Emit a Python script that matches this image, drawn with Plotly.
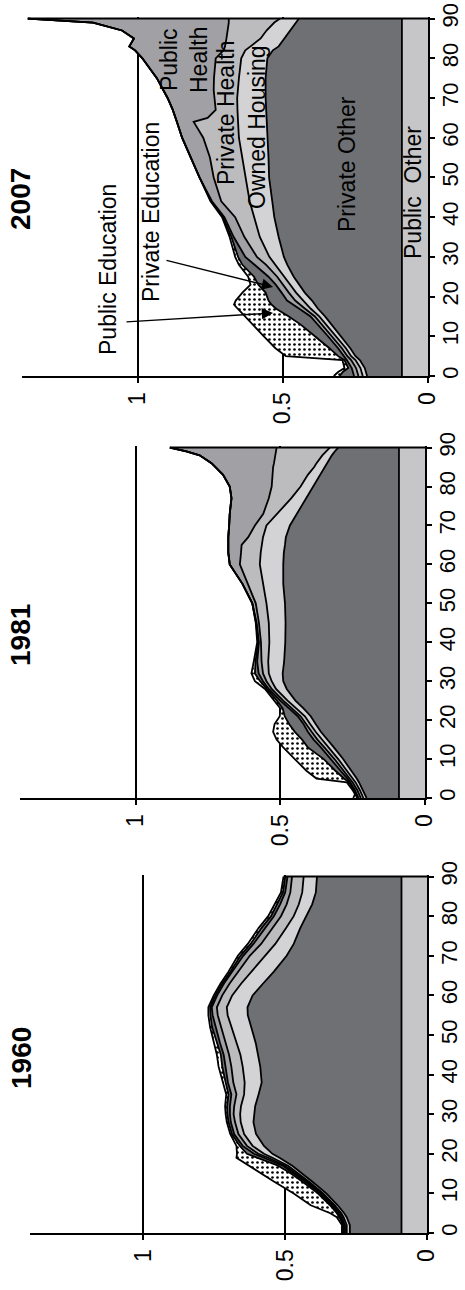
import plotly.graph_objects as go

W, H = 465, 1290
FONT = "Liberation Sans, Arial, Helvetica, sans-serif"

# ---------------- 2007 ----------------
ages_2007 = [0, 1, 2, 4, 5, 7, 10, 13, 15, 17, 18, 19, 21, 23, 25, 28, 30, 35, 40, 44,
             50, 55, 60, 64, 65, 67, 70, 72, 75, 80, 82, 83, 85, 87, 89, 90]
public_other_2007 = [0.09, 0.09, 0.09, 0.09, 0.09, 0.09, 0.09, 0.09, 0.09, 0.09, 0.09, 0.09,
                     0.09, 0.09, 0.09, 0.09, 0.09, 0.09, 0.09, 0.09, 0.09, 0.09, 0.09, 0.09,
                     0.09, 0.09, 0.09, 0.09, 0.09, 0.09, 0.09, 0.09, 0.09, 0.09, 0.09, 0.09]
private_other_2007 = [0.120, 0.124, 0.128, 0.145, 0.160, 0.178, 0.210, 0.245, 0.265, 0.290, 0.300, 0.310,
                      0.335, 0.355, 0.373, 0.395, 0.407, 0.425, 0.440, 0.447, 0.458, 0.460, 0.464, 0.466,
                      0.467, 0.468, 0.470, 0.470, 0.470, 0.464, 0.445, 0.425, 0.405, 0.387, 0.365, 0.355]
owned_housing_2007 = [0.015, 0.015, 0.015, 0.015, 0.015, 0.015, 0.017, 0.017, 0.020, 0.025, 0.028, 0.030,
                      0.030, 0.030, 0.032, 0.040, 0.050, 0.065, 0.070, 0.078, 0.081, 0.090, 0.098, 0.099,
                      0.099, 0.099, 0.098, 0.096, 0.092, 0.090, 0.095, 0.097, 0.082, 0.080, 0.075, 0.065]
private_health_2007 = [0.015, 0.015, 0.015, 0.015, 0.013, 0.014, 0.014, 0.014, 0.015, 0.020, 0.024, 0.028,
                       0.025, 0.025, 0.025, 0.033, 0.043, 0.053, 0.065, 0.098, 0.110, 0.112, 0.123, 0.153,
                       0.104, 0.075, 0.079, 0.083, 0.086, 0.088, 0.075, 0.088, 0.118, 0.133, 0.157, 0.177]
public_health_2007 = [0.015, 0.015, 0.015, 0.015, 0.012, 0.013, 0.014, 0.014, 0.015, 0.020, 0.024, 0.028,
                      0.025, 0.025, 0.030, 0.042, 0.040, 0.037, 0.037, 0.032, 0.049, 0.066, 0.073, 0.058,
                      0.110, 0.148, 0.161, 0.173, 0.197, 0.253, 0.305, 0.330, 0.319, 0.365, 0.468, 0.693]
private_education_2007 = [0.050, 0.035, 0.012, 0.008, 0.020, 0.030, 0.045, 0.060, 0.075, 0.080, 0.074, 0.064,
                          0.055, 0.060, 0.050, 0.040, 0.025, 0.008, 0.005, 0.003, 0.0, 0.0, 0.0, 0.0,
                          0.0, 0.0, 0.0, 0.0, 0.0, 0.0, 0.0, 0.0, 0.0, 0.0, 0.0, 0.0]
public_education_2007 = [0.020, 0.016, 0.013, 0.007, 0.180, 0.186, 0.176, 0.166, 0.150, 0.132, 0.129, 0.113,
                         0.080, 0.027, 0.020, 0.012, 0.010, 0.006, 0.003, 0.002, 0.0, 0.0, 0.0, 0.0,
                         0.0, 0.0, 0.0, 0.0, 0.0, 0.0, 0.0, 0.0, 0.0, 0.0, 0.0, 0.0]

# ---------------- 1981 ----------------
ages_1981 = [0, 1, 2, 4, 5, 7, 10, 13, 15, 17, 19, 21, 23, 25, 28, 30, 32, 35, 40, 45,
             50, 55, 60, 63, 65, 67, 70, 73, 77, 80, 83, 85, 86, 88, 89, 90]
public_other_1981 = [0.09, 0.09, 0.09, 0.09, 0.09, 0.09, 0.09, 0.09, 0.09, 0.09, 0.09, 0.09,
                     0.09, 0.09, 0.09, 0.09, 0.09, 0.09, 0.09, 0.09, 0.09, 0.09, 0.09, 0.09,
                     0.09, 0.09, 0.09, 0.09, 0.09, 0.09, 0.09, 0.09, 0.09, 0.09, 0.09, 0.09]
private_other_1981 = [0.112, 0.118, 0.124, 0.138, 0.146, 0.165, 0.193, 0.225, 0.248, 0.270, 0.288, 0.305,
                      0.330, 0.358, 0.388, 0.400, 0.402, 0.397, 0.393, 0.392, 0.394, 0.400, 0.400, 0.398,
                      0.394, 0.391, 0.377, 0.353, 0.322, 0.296, 0.272, 0.256, 0.248, 0.232, 0.222, 0.210]
owned_housing_1981 = [0.011, 0.011, 0.011, 0.012, 0.013, 0.015, 0.017, 0.018, 0.019, 0.018, 0.019, 0.020,
                      0.025, 0.027, 0.037, 0.040, 0.048, 0.055, 0.055, 0.058, 0.064, 0.070, 0.081, 0.080,
                      0.081, 0.079, 0.081, 0.067, 0.050, 0.044, 0.043, 0.037, 0.037, 0.033, 0.031, 0.029]
private_health_1981 = [0.009, 0.009, 0.009, 0.010, 0.011, 0.012, 0.013, 0.015, 0.015, 0.014, 0.013, 0.015,
                       0.015, 0.015, 0.015, 0.018, 0.020, 0.023, 0.029, 0.034, 0.037, 0.052, 0.069, 0.068,
                       0.069, 0.051, 0.040, 0.049, 0.078, 0.100, 0.123, 0.142, 0.147, 0.163, 0.172, 0.184]
public_health_1981 = [0.008, 0.008, 0.008, 0.008, 0.008, 0.010, 0.012, 0.012, 0.013, 0.013, 0.010, 0.010,
                      0.010, 0.010, 0.010, 0.012, 0.015, 0.015, 0.007, 0.008, 0.012, 0.019, 0.035, 0.044,
                      0.046, 0.069, 0.089, 0.116, 0.129, 0.145, 0.170, 0.200, 0.216, 0.261, 0.310, 0.369]
private_education_1981 = [0.005, 0.004, 0.004, 0.004, 0.012, 0.018, 0.025, 0.045, 0.040, 0.045, 0.050, 0.045,
                          0.022, 0.012, 0.008, 0.010, 0.013, 0.006, 0.003, 0.002, 0.0, 0.0, 0.0, 0.0,
                          0.0, 0.0, 0.0, 0.0, 0.0, 0.0, 0.0, 0.0, 0.0, 0.0, 0.0, 0.0]
public_education_1981 = [0.013, 0.002, 0.004, 0.008, 0.095, 0.100, 0.100, 0.085, 0.088, 0.075, 0.050, 0.017,
                         0.008, 0.008, 0.005, 0.018, 0.012, 0.006, 0.003, 0.001, 0.0, 0.0, 0.0, 0.0,
                         0.0, 0.0, 0.0, 0.0, 0.0, 0.0, 0.0, 0.0, 0.0, 0.0, 0.0, 0.0]

# ---------------- 1960 ----------------
ages_1960 = [0, 2, 4, 5, 7, 10, 13, 15, 17, 19, 20, 22, 25, 28, 30, 32, 35, 38, 42, 45,
             48, 52, 55, 57, 60, 63, 66, 70, 73, 77, 80, 83, 86, 90]
public_other_1960 = [0.09, 0.09, 0.09, 0.09, 0.09, 0.09, 0.09, 0.09, 0.09, 0.09, 0.09, 0.09,
                     0.09, 0.09, 0.09, 0.09, 0.09, 0.09, 0.09, 0.09, 0.09, 0.09, 0.09, 0.09,
                     0.09, 0.09, 0.09, 0.09, 0.09, 0.09, 0.09, 0.09, 0.09, 0.09]
private_other_1960 = [0.182, 0.182, 0.193, 0.202, 0.225, 0.265, 0.315, 0.350, 0.385, 0.430, 0.455, 0.485,
                      0.513, 0.522, 0.520, 0.516, 0.504, 0.493, 0.498, 0.505, 0.514, 0.530, 0.542, 0.543,
                      0.525, 0.488, 0.450, 0.405, 0.380, 0.357, 0.335, 0.315, 0.302, 0.298]
owned_housing_1960 = [0.011, 0.011, 0.011, 0.010, 0.010, 0.011, 0.012, 0.013, 0.015, 0.025, 0.030, 0.040,
                      0.042, 0.045, 0.049, 0.050, 0.051, 0.060, 0.062, 0.063, 0.068, 0.070, 0.071, 0.073,
                      0.072, 0.077, 0.080, 0.075, 0.065, 0.050, 0.045, 0.047, 0.048, 0.047]
private_health_1960 = [0.006, 0.006, 0.006, 0.006, 0.006, 0.006, 0.007, 0.008, 0.010, 0.015, 0.020, 0.020,
                       0.020, 0.020, 0.023, 0.024, 0.027, 0.040, 0.040, 0.040, 0.038, 0.037, 0.035, 0.035,
                       0.035, 0.041, 0.045, 0.055, 0.050, 0.048, 0.045, 0.043, 0.042, 0.041]
public_health_1960 = [0.004, 0.004, 0.005, 0.005, 0.005, 0.005, 0.006, 0.007, 0.008, 0.015, 0.015, 0.015,
                      0.015, 0.015, 0.013, 0.015, 0.018, 0.019, 0.020, 0.019, 0.020, 0.018, 0.018, 0.018,
                      0.018, 0.020, 0.021, 0.023, 0.027, 0.027, 0.025, 0.023, 0.018, 0.016]
private_education_1960 = [0.003, 0.003, 0.004, 0.005, 0.006, 0.008, 0.010, 0.012, 0.017, 0.025, 0.025, 0.010,
                          0.008, 0.008, 0.009, 0.010, 0.010, 0.008, 0.012, 0.010, 0.010, 0.013, 0.008, 0.006,
                          0.006, 0.006, 0.007, 0.010, 0.010, 0.012, 0.010, 0.010, 0.008, 0.008]
public_education_1960 = [0.004, 0.004, 0.009, 0.023, 0.068, 0.085, 0.100, 0.105, 0.103, 0.072, 0.035, 0.012,
                         0.006, 0.006, 0.006, 0.007, 0.008, 0.010, 0.013, 0.014, 0.012, 0.007, 0.007, 0.006,
                         0.006, 0.006, 0.007, 0.009, 0.010, 0.010, 0.010, 0.009, 0.007, 0.006]

AGE_TICKS = [0, 10, 20, 30, 40, 50, 60, 70, 80, 90]
SHARE_TICKS = [0, 0.5, 1]
SHARE_LABELS = ["0", "0.5", "1"]

# stacking order, from the axis outward
LAYERS = [
    ("Public Other", "#c6c6c8"),
    ("Private Other", "#6f7074"),
    ("Owned Housing", "#d3d3d5"),
    ("Private Health", "#bcbcbf"),
    ("Public Health", "#a1a1a5"),
    ("Private Education", "#6f7074"),
    ("Public Education", "#ffffff"),
]

panels = [
    dict(year="2007", ages=ages_2007,
         series=[public_other_2007, private_other_2007, owned_housing_2007, private_health_2007,
                 public_health_2007, private_education_2007, public_education_2007],
         xpx=(22, 428), ypx=(17, 376), title_px=(21, 199)),
    dict(year="1981", ages=ages_1981,
         series=[public_other_1981, private_other_1981, owned_housing_1981, private_health_1981,
                 public_health_1981, private_education_1981, public_education_1981],
         xpx=(20, 425), ypx=(446, 798), title_px=(20, 635)),
    dict(year="1960", ages=ages_1960,
         series=[public_other_1960, private_other_1960, owned_housing_1960, private_health_1960,
                 public_health_1960, private_education_1960, public_education_1960],
         xpx=(30, 427), ypx=(875, 1233), title_px=(21, 1058)),
]


def fx(px):
    return px / W


def fy(py):
    return 1 - py / H


fig = go.Figure()
layout = dict(
    width=W, height=H,
    margin=dict(l=0, r=0, t=0, b=0, autoexpand=False),
    paper_bgcolor="white", plot_bgcolor="white",
    showlegend=False,
    font=dict(family=FONT, color="black"),
    annotations=[],
)

for i, p in enumerate(panels):
    xa = "x" if i == 0 else f"x{i + 1}"
    ya = "y" if i == 0 else f"y{i + 1}"
    for (name, color), values in zip(LAYERS, p["series"]):
        tr = dict(
            x=values, y=p["ages"], mode="lines", name=name,
            stackgroup=f"stack{p['year']}", orientation="h",
            line=dict(color="black", width=1.8, shape="linear"),
            fillcolor=color, xaxis=xa, yaxis=ya, hoverinfo="skip",
        )
        if name == "Public Education":
            tr["fillpattern"] = dict(shape=".", fgcolor="black", bgcolor="white",
                                     size=5, solidity=0.22, fillmode="replace")
        fig.add_trace(go.Scatter(**tr))
    # closing edge of the stack at the oldest age
    total_last = sum(s[-1] for s in p["series"])
    fig.add_trace(go.Scatter(x=[0, total_last], y=[p["ages"][-1], p["ages"][-1]],
                             mode="lines", line=dict(color="black", width=2),
                             xaxis=xa, yaxis=ya, hoverinfo="skip"))

    x0, x1 = p["xpx"]
    y0, y1 = p["ypx"]
    layout["xaxis" if i == 0 else f"xaxis{i + 1}"] = dict(
        domain=[fx(x0), fx(x1)], range=[1.4, 0], anchor=ya, automargin=False,
        tickvals=SHARE_TICKS, ticktext=SHARE_LABELS, tickangle=-90,
        ticks="outside", ticklen=5, tickwidth=1.5, tickcolor="black",
        showline=True, linecolor="black", linewidth=2,
        showgrid=True, gridcolor="black", gridwidth=1.5, zeroline=False,
        tickfont=dict(family=FONT, size=23, color="black"), fixedrange=True,
    )
    layout["yaxis" if i == 0 else f"yaxis{i + 1}"] = dict(
        domain=[fy(y1), fy(y0)], range=[0, 90.4], anchor=xa, side="right", automargin=False,
        tickvals=AGE_TICKS, tickangle=-90, ticklabelstandoff=-3,
        ticks="outside", ticklen=5, tickwidth=1.5, tickcolor="black",
        showline=True, linecolor="black", linewidth=2,
        showgrid=False, zeroline=False,
        tickfont=dict(family=FONT, size=22, color="black"), fixedrange=True,
    )
    tx, ty = p["title_px"]
    layout["annotations"].append(dict(
        text=f"<b>{p['year']}</b>", x=fx(tx), y=fy(ty), xref="paper", yref="paper",
        xanchor="center", yanchor="middle", textangle=-90, showarrow=False,
        font=dict(family=FONT, size=28, color="black"),
    ))

# layer names written inside the 2007 panel
labels_2007 = [
    ("Public Education", 108, 270),
    ("Private Education", 151, 212),
    ("Public<br>Health", 184, 60),
    ("Private Health", 226, 113),
    ("Owned Housing", 257, 127),
    ("Private Other", 347, 164),
    ("Public  Other", 413, 193),
]
for text, px, py in labels_2007:
    layout["annotations"].append(dict(
        text=text, x=fx(px), y=fy(py), xref="paper", yref="paper",
        xanchor="center", yanchor="middle", textangle=-90, showarrow=False,
        font=dict(family=FONT, size=23, color="black"),
    ))

# pointers from the education labels to their bands
pointers = [((273, 313), (125, 322)), ((273, 287), (165, 260))]
for (hx, hy), (tx, ty) in pointers:
    layout["annotations"].append(dict(
        text="", x=fx(hx), y=fy(hy), xref="paper", yref="paper",
        ax=tx - hx, ay=ty - hy, showarrow=True,
        arrowhead=2, arrowsize=1.6, arrowwidth=1.4, arrowcolor="black", standoff=0,
    ))

fig.update_layout(**layout)
fig.write_html("out.html")
